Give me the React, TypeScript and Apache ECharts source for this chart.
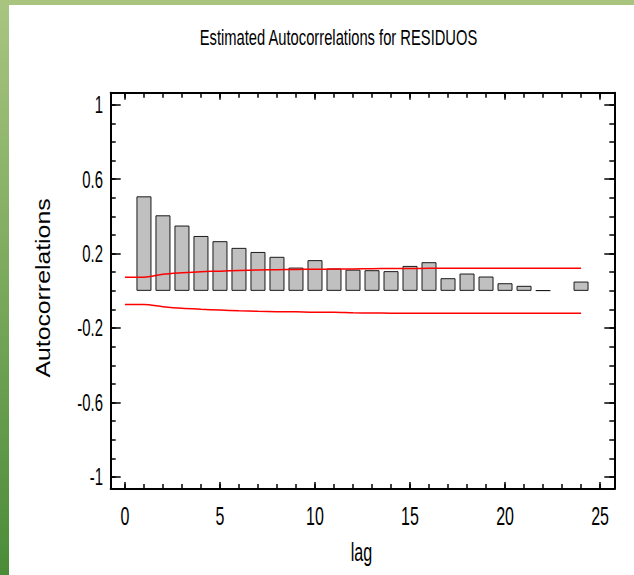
import React, { useEffect, useRef } from "react";
import * as echarts from "echarts";

// lags of the estimated autocorrelations
const lags = [1, 2, 3, 4, 5, 6, 7, 8, 9, 10, 11, 12, 13, 14, 15, 16, 17, 18, 19, 20, 21, 22, 23, 24];
const autocorrelations = [
  0.508, 0.406, 0.351, 0.295, 0.267, 0.231, 0.209, 0.183, 0.125, 0.165, 0.12, 0.114,
  0.111, 0.106, 0.134, 0.154, 0.068, 0.093, 0.077, 0.041, 0.027, 0.003, null, 0.05,
];

// probability limits
const limitLags = [0, 1, 2, 3, 4, 5, 6, 7, 8, 9, 10, 11, 12, 13, 14, 15, 16, 17, 18, 19, 20, 21, 22, 23, 24];
const upperLimits = [
  0.073, 0.073, 0.089, 0.097, 0.103, 0.106, 0.11, 0.112, 0.114, 0.115, 0.116, 0.117, 0.118,
  0.119, 0.12, 0.12, 0.121, 0.122, 0.122, 0.122, 0.122, 0.122, 0.122, 0.122, 0.122,
];
const lowerLimits = [
  -0.073, -0.073, -0.085, -0.094, -0.099, -0.103, -0.107, -0.11, -0.112, -0.113, -0.115, -0.115, -0.118,
  -0.119, -0.12, -0.12, -0.12, -0.12, -0.12, -0.12, -0.12, -0.12, -0.12, -0.12, -0.12,
];

// axes
const xTickLabels = [0, 5, 10, 15, 20, 25];
const xMinorTicks = [0, 1, 2, 3, 4, 5, 6, 7, 8, 9, 10, 11, 12, 13, 14, 15, 16, 17, 18, 19, 20, 21, 22, 23, 24, 25];
const yTickLabels = [-1, -0.6, -0.2, 0.2, 0.6, 1];
const yMinorTicks = [
  -1, -0.9, -0.8, -0.7, -0.6, -0.5, -0.4, -0.3, -0.2, -0.1, 0, 0.1, 0.2, 0.3, 0.4, 0.5, 0.6, 0.7, 0.8, 0.9, 1,
];

const titleText = "Estimated Autocorrelations for RESIDUOS";
const xAxisTitle = "lag";
const yAxisTitle = "Autocorrelations";

const FONT = "'Liberation Sans', Arial, sans-serif";

export default function App() {
  const ref = useRef<HTMLDivElement>(null);

  useEffect(() => {
    if (!ref.current) return;
    const chart = echarts.init(ref.current, null, { renderer: "svg" });
    const line = { color: "#000", width: 2 };
    const tickStyle = { color: "#000", width: 1.5 };
    const mkX = (pos: string, vals: number[], len: number, showLine: boolean) => ({
      type: "value",
      position: pos,
      min: -0.75,
      max: 25.75,
      axisLine: { show: showLine, onZero: false, lineStyle: line },
      axisTick: { show: true, inside: true, length: len, customValues: vals, lineStyle: tickStyle },
      axisLabel: { show: false },
      splitLine: { show: false },
    });
    const mkY = (pos: string, vals: number[], len: number, showLine: boolean) => ({
      type: "value",
      position: pos,
      min: -1.065,
      max: 1.065,
      axisLine: { show: showLine, onZero: false, lineStyle: line },
      axisTick: { show: true, inside: true, length: len, customValues: vals, lineStyle: tickStyle },
      axisLabel: { show: false },
      splitLine: { show: false },
    });

    chart.setOption({
      animation: false,
      backgroundColor: "#fff",
      grid: { left: 110.7, right: 19.7, top: 92.7, bottom: 86, containLabel: false },
      xAxis: [
        mkX("bottom", xMinorTicks, 5, true),
        mkX("bottom", xTickLabels, 7, false),
        mkX("top", xMinorTicks, 5, true),
        mkX("top", xTickLabels, 7, false),
      ],
      yAxis: [
        mkY("left", yMinorTicks, 5, true),
        mkY("left", yTickLabels, 10, false),
        mkY("right", yMinorTicks, 5, true),
        mkY("right", yTickLabels, 10, false),
      ],
      series: [
        {
          type: "bar",
          xAxisIndex: 0,
          yAxisIndex: 0,
          barWidth: 15,
          data: lags.map((l, i) => [l, autocorrelations[i]]),
          itemStyle: { color: "#c0c0c0", borderColor: "#1a1a1a", borderWidth: 1 },
          z: 2,
        },
        {
          type: "line",
          xAxisIndex: 0,
          yAxisIndex: 0,
          data: limitLags.map((l, i) => [l, upperLimits[i]]),
          showSymbol: false,
          smooth: 0.3,
          lineStyle: { color: "#ff0000", width: 1.5 },
          z: 3,
        },
        {
          type: "line",
          xAxisIndex: 0,
          yAxisIndex: 0,
          data: limitLags.map((l, i) => [l, lowerLimits[i]]),
          showSymbol: false,
          smooth: 0.3,
          lineStyle: { color: "#ff0000", width: 1.5 },
          z: 3,
        },
      ],
    });

    const graphics: any[] = [
      {
        type: "rect",
        shape: { x: 0, y: 0, width: 9, height: 575 },
        style: {
          fill: new echarts.graphic.LinearGradient(0, 0, 0, 1, [
            { offset: 0, color: "#a9c581" },
            { offset: 1, color: "#4b8c37" },
          ]),
        },
        silent: true,
      },
      {
        type: "rect",
        shape: { x: 0, y: 0, width: 634, height: 5 },
        style: { fill: "#a9c47f" },
        silent: true,
      },
      {
        type: "text",
        x: 338.5,
        y: 37.5,
        scaleX: 0.67,
        style: { text: titleText, font: `22px ${FONT}`, fill: "#000", align: "center", verticalAlign: "middle" },
      },
      {
        type: "text",
        x: 361.5,
        y: 552,
        scaleX: 0.62,
        style: { text: xAxisTitle, font: `26px ${FONT}`, fill: "#000", align: "center", verticalAlign: "middle" },
      },
      {
        type: "text",
        x: 43,
        y: 288,
        rotation: Math.PI / 2,
        scaleX: 1.24,
        style: { text: yAxisTitle, font: `20px ${FONT}`, fill: "#000", align: "center", verticalAlign: "middle" },
      },
    ];
    xTickLabels.forEach((v) => {
      const px = chart.convertToPixel({ xAxisIndex: 0 }, v) as number;
      graphics.push({
        type: "text",
        x: px,
        y: 516,
        scaleX: 0.64,
        style: { text: String(v), font: `25px ${FONT}`, fill: "#000", align: "center", verticalAlign: "middle" },
      });
    });
    yTickLabels.forEach((v) => {
      const py = chart.convertToPixel({ yAxisIndex: 0 }, v) as number;
      graphics.push({
        type: "text",
        x: 103,
        y: py,
        scaleX: 0.62,
        style: { text: String(v), font: `24px ${FONT}`, fill: "#000", align: "right", verticalAlign: "middle" },
      });
    });
    chart.setOption({ graphic: graphics });

    return () => chart.dispose();
  }, []);

  return (
    <div
      ref={ref}
      style={{ position: "fixed", left: 0, top: 0, width: 634, height: 575, background: "#fff" }}
    />
  );
}
